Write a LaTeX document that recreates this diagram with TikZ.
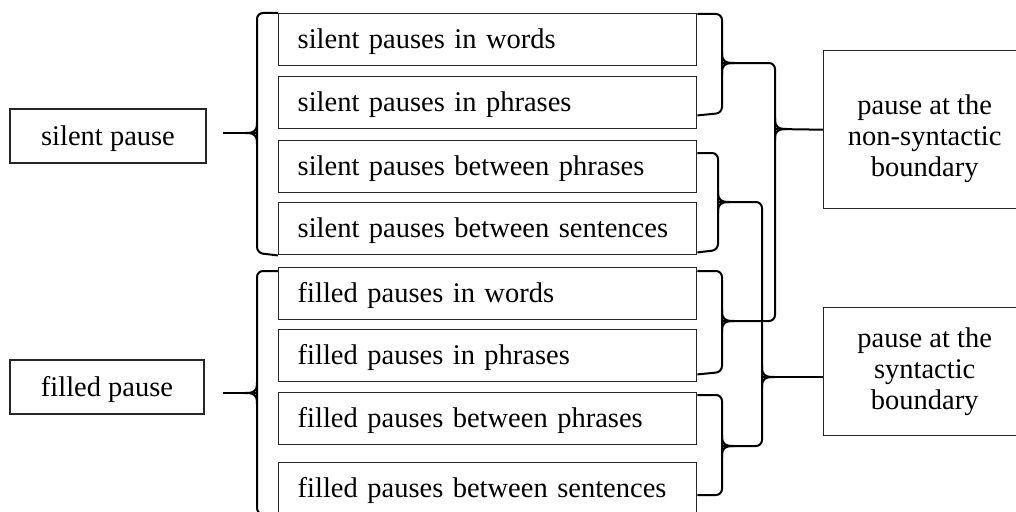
\documentclass[tikz,border=0pt]{standalone}
\usepackage{fontspec}
\setmainfont{Liberation Serif}
\begin{document}
\begin{tikzpicture}[x=1pt,y=-1pt,
  every node/.style={font=\fontsize{28.5}{31}\selectfont},
  box/.style={draw=black!85, line width=1.4pt, inner sep=0pt},
  midbox/.style={box, anchor=north west, minimum height=52pt, text width=380pt,
    inner xsep=19pt, align=left, text height=24pt, text depth=6pt},
  sidebox/.style={box, minimum height=54pt, text height=24pt, text depth=6pt},
  rbox/.style={box, anchor=north west, minimum width=202pt, align=center},
  brc/.style={line width=2pt, rounded corners=6pt, line join=round},
  cusp/.pic={\draw[brc, sharp corners] (0,-11) .. controls (0,-2) and (2,0) .. (12,0)
                                       (0,11) .. controls (0,2) and (2,0) .. (12,0);}
]
\path[use as bounding box] (0,0) rectangle (1016,511);
\clip (0,0) rectangle (1016,511);
\fill[white] (0,0) rectangle (1016,511);

% category boxes on the left
\node[sidebox, minimum width=196pt] (sil) at (108,136) {silent pause};
\node[sidebox, minimum width=194pt] (fil) at (107,387) {filled pause};

% pause types in the middle column
\node[midbox] (sw)  at (278,13)  {silent pauses in words};
\node[midbox] (sp)  at (278,76)  {silent pauses in phrases};
\node[midbox] (sbp) at (278,140) {silent pauses between phrases};
\node[midbox] (sbs) at (278,202) {silent pauses between sentences};
\node[midbox] (fw)  at (278,267) {filled pauses in words};
\node[midbox] (fp)  at (278,329) {filled pauses in phrases};
\node[midbox] (fbp) at (278,392) {filled pauses between phrases};
\node[midbox] (fbs) at (278,462) {filled pauses between sentences};

% boundary boxes on the right
\node[rbox, minimum height=158pt,
  label={[align=center,yshift=-9pt]center:{pause at the\\non-syntactic\\boundary}}] (ns) at (823,50) {};
\node[rbox, minimum height=128pt] (sy) at (823,307) {pause at the\\syntactic\\boundary};

% left braces
\coordinate (tS) at (257,133);
\coordinate (eS) at (223,133);
\draw[brc] (sw.north west) -- (257,13) -- (257,253) -- (sbs.south west);
\pic[xscale=-1] at (tS) {cusp};
\draw[brc] (tS) -- (eS);

\coordinate (tL) at (257,393);
\coordinate (eL) at (223,393);
\draw[brc] ([yshift=-4pt]fw.north west) -- (257,271) -- (257,514) -- (fbs.south west);
\pic[xscale=-1] at (tL) {cusp};
\draw[brc] (tL) -- (eL);

% right braces: tips
\coordinate (tA) at (722,63);
\coordinate (tC) at (722,321);
\coordinate (tD) at (718,202);
\coordinate (tE) at (722,446);
\coordinate (tB) at (775,129);
\coordinate (tF) at (762,377);

% words + phrases (silent)
\draw[brc] ([yshift=-1pt]sw.north east) -- (722,14) -- (722,113) -- ([yshift=14pt]sp.south east);
\pic at (tA) {cusp};
% words + phrases (filled)
\draw[brc] ([yshift=-4pt]fw.north east) -- (722,271) -- (722,372) -- ([yshift=8pt]fp.south east);
\pic at (tC) {cusp};
% joint brace to the non-syntactic boundary
\draw[brc] (tA) -- (775,63) -- (775,321) -- (tC);
\pic at (tB) {cusp};
\draw[brc] (tB) -- (ns.west);

% between phrases + sentences (silent)
\draw[brc] ([yshift=-13pt]sbp.north east) -- (718,153) -- (718,250) -- ([yshift=3pt]sbs.south east);
\pic at (tD) {cusp};
% between phrases + sentences (filled)
\draw[brc] ([yshift=-3pt]fbp.north east) -- (722,395) -- (722,495) -- ([yshift=-33pt]fbs.north east);
\pic at (tE) {cusp};
% joint brace to the syntactic boundary
\draw[brc] (tD) -- (762,202) -- (762,446) -- (tE);
\pic at (tF) {cusp};
\draw[brc] (tF) -- (sy.west |- tF);
\end{tikzpicture}
\end{document}
